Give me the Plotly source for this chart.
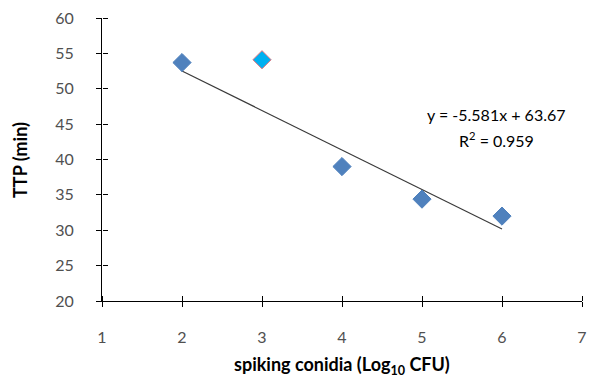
import plotly.graph_objects as go

# data
conidia_log = [2, 3, 4, 5, 6]
ttp_min = [53.7, 54.1, 39.0, 34.4, 32.0]
marker_colors = ["#4F81BD", "#00B0F0", "#4F81BD", "#4F81BD", "#4F81BD"]
outline_colors = ["#4F81BD", "#E0707A", "#4F81BD", "#4F81BD", "#4F81BD"]
trend_slope = -5.581
trend_intercept = 63.67
trend_x = [2, 6]
x_ticks = [1, 2, 3, 4, 5, 6, 7]
y_ticks = [20, 25, 30, 35, 40, 45, 50, 55, 60]

trend_y = [trend_slope * x + trend_intercept for x in trend_x]

FONT = "Lato, 'Open Sans', sans-serif"

fig = go.Figure()
fig.add_trace(go.Scatter(
    x=trend_x, y=trend_y, mode="lines",
    line=dict(color="#3a3a3a", width=1.2), showlegend=False, hoverinfo="skip"))
fig.add_trace(go.Scatter(
    x=conidia_log, y=ttp_min, mode="markers",
    marker=dict(symbol="diamond", size=14, color=marker_colors,
                line=dict(color=outline_colors, width=1)),
    showlegend=False))
# invisible trace to enable the crossing-tick overlay axes
fig.add_trace(go.Scatter(x=[4], y=[40], xaxis="x2", yaxis="y2", mode="markers",
                         marker=dict(opacity=0), showlegend=False, hoverinfo="skip"))

axis_common = dict(showgrid=False, zeroline=False, showline=True, linecolor="#000",
                   linewidth=1, ticks="outside", ticklen=5, tickcolor="#000",
                   tickfont=dict(family=FONT, size=16, color="#505050"))
inner_common = dict(showticklabels=False, ticks="outside", ticklen=5, tickcolor="#000",
                    showgrid=False, zeroline=False, showline=False, anchor="free",
                    position=0)

fig.update_layout(
    width=595, height=378,
    margin=dict(l=102, r=8, t=17, b=77),
    paper_bgcolor="white", plot_bgcolor="white",
    xaxis=dict(range=[1, 7], tickvals=x_ticks, ticklabelstandoff=17, **axis_common),
    yaxis=dict(range=[20, 60], tickvals=y_ticks, ticklabelstandoff=19, **axis_common),
    xaxis2=dict(range=[1, 7], tickvals=x_ticks, overlaying="x", side="top", **inner_common),
    yaxis2=dict(range=[20, 60], tickvals=y_ticks, overlaying="y", side="right", **inner_common),
    annotations=[
        dict(text="<b>TTP (min)</b>", xref="paper", yref="paper", x=-0.172, y=0.5,
             textangle=-90, showarrow=False, xanchor="center", yanchor="middle",
             font=dict(family=FONT, size=18, color="#000")),
        dict(text="<b>spiking conidia (Log<sub>10</sub> CFU)</b>", xref="paper", yref="paper",
             x=0.5, y=0, yshift=-64, showarrow=False, xanchor="center", yanchor="middle",
             font=dict(family=FONT, size=18, color="#000")),
        dict(text="y = -5.581x + 63.67", xref="x", yref="y", x=5.93, y=46.3,
             showarrow=False, xanchor="center", yanchor="middle",
             font=dict(family=FONT, size=16, color="#000")),
        dict(text="R<sup>2</sup> = 0.959", xref="x", yref="y", x=5.93, y=42.8,
             showarrow=False, xanchor="center", yanchor="middle",
             font=dict(family=FONT, size=16, color="#000")),
    ],
)

fig.write_html("out.html", config={"displayModeBar": False},
               post_script="document.body.style.margin='0';document.body.style.overflow='hidden';")
